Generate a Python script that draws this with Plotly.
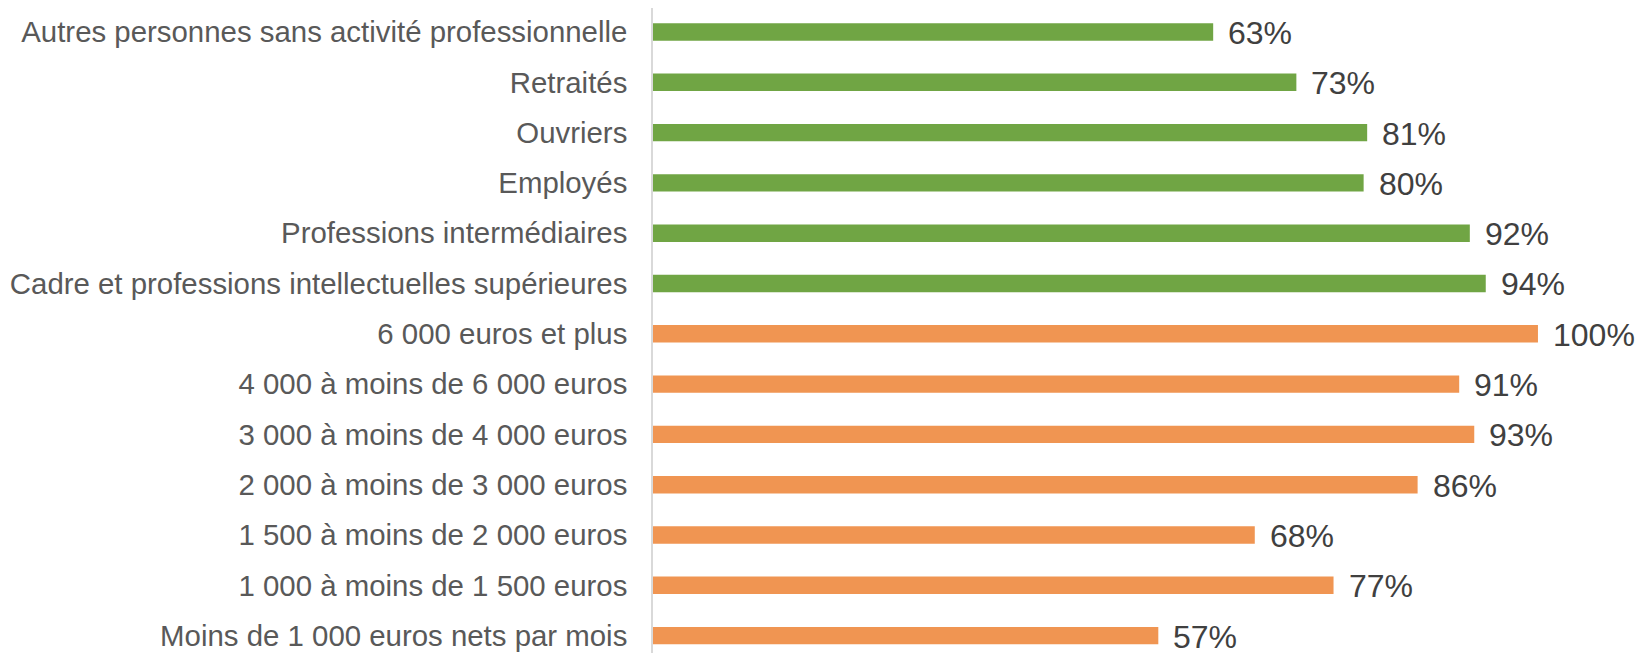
import plotly.graph_objects as go

categories = [
    "Moins de 1 000 euros nets par mois",
    "1 000 à moins de 1 500 euros",
    "1 500 à moins de 2 000 euros",
    "2 000 à moins de 3 000 euros",
    "3 000 à moins de 4 000 euros",
    "4 000 à moins de 6 000 euros",
    "6 000 euros et plus",
    "Cadre et professions intellectuelles supérieures",
    "Professions intermédiaires",
    "Employés",
    "Ouvriers",
    "Retraités",
    "Autres personnes sans activité professionnelle",
]
values = [0.571, 0.769, 0.680, 0.864, 0.928, 0.911, 1.000,
          0.941, 0.923, 0.803, 0.807, 0.727, 0.633]
groups = ["revenu"] * 7 + ["csp"] * 6
group_colors = {"revenu": "#F09552", "csp": "#70A544"}

colors = [group_colors[g] for g in groups]
labels = [f"{round(v * 100):d}%" for v in values]

FONT = "Liberation Sans, Arial, sans-serif"

fig = go.Figure()
fig.add_trace(go.Bar(
    x=values, y=categories, orientation="h",
    marker=dict(color=colors, line=dict(width=0)),
    hoverinfo="skip",
))

for c, v, t in zip(categories, values, labels):
    fig.add_annotation(x=v, y=c, text=t, showarrow=False, xanchor="left",
                       yanchor="middle", xshift=13, yshift=-1,
                       font=dict(family=FONT, size=32, color="#404040"))

fig.update_layout(
    width=1637, height=645,
    margin=dict(l=645, r=5, t=0, b=0),
    paper_bgcolor="white", plot_bgcolor="white",
    bargap=0.654,
    showlegend=False,
)
fig.update_xaxes(range=[0, 1.1153], visible=False, showgrid=False, zeroline=False)
fig.update_yaxes(
    range=[-0.346, 12.477],
    showline=True, linecolor="#D9D9D9", linewidth=1.5,
    showgrid=False, zeroline=False,
    ticks="", ticklabelstandoff=18,
    tickfont=dict(family=FONT, size=29.4, color="#595959"),
)

fig.write_html("out.html")
